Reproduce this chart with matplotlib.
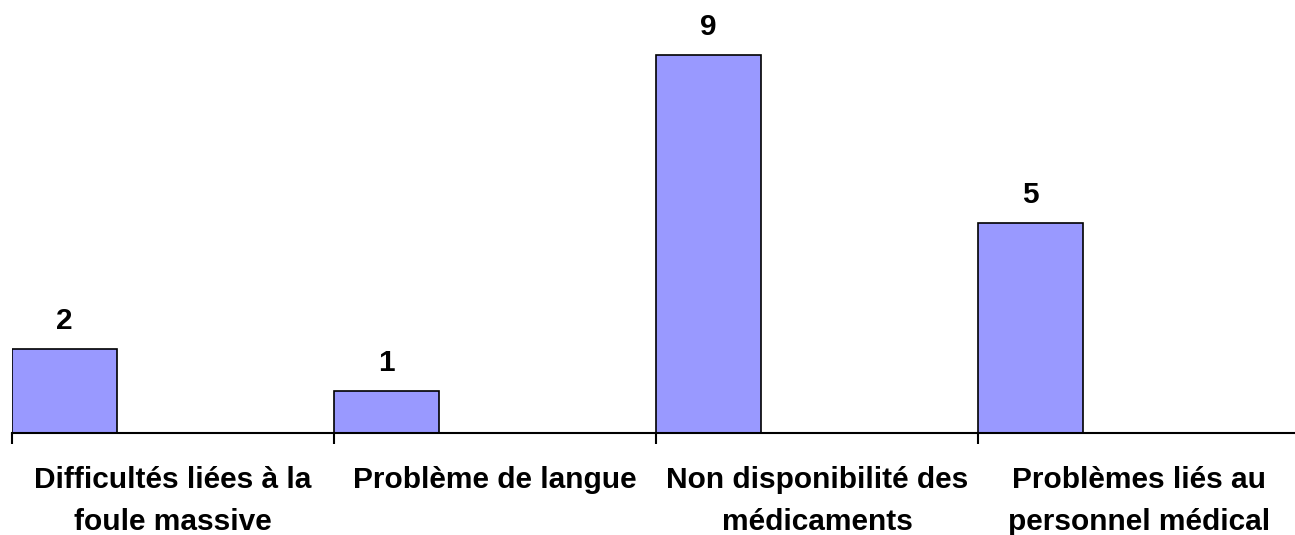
import matplotlib
matplotlib.use('Agg')
import matplotlib.pyplot as plt
import numpy as np

# data
categories = ['Difficultés liées à la\nfoule massive',
              'Problème de langue',
              'Non disponibilité des\nmédicaments',
              'Problèmes liés au\npersonnel médical']
values = [2, 1, 9, 5]

plt.rcParams['font.family'] = ['Liberation Sans', 'DejaVu Sans']
plt.rcParams['font.weight'] = 'bold'

W, H = 1295, 535
fig = plt.figure(figsize=(W / 100, H / 100), dpi=100)
# axes: left edge at x=12px, baseline at y=433px, 42px per unit
ax = fig.add_axes([12 / W, (H - 433) / H, (W - 12) / W, 420 / H])

slot = 322
bar_w = 105 / slot
x = np.arange(len(values))
ax.bar(x, values, width=bar_w, align='edge', color='#9999FF',
       edgecolor='black', linewidth=1.2, zorder=2)

for xi, v in zip(x, values):
    ax.annotate(str(v), (xi + bar_w / 2, v), xytext=(0, 14.5),
                textcoords='offset points', ha='center', va='baseline',
                fontsize=21.5, fontweight='bold')

ax.set_xlim(0, (W - 12) / slot)
ax.set_ylim(0, 10)

for s in ['top', 'right', 'left']:
    ax.spines[s].set_visible(False)
ax.spines['bottom'].set_linewidth(1.5)
ax.spines['bottom'].set_zorder(3)
ax.set_yticks([])

ax.set_xticks(x)
ax.set_xticklabels([])
ax.tick_params(axis='x', which='major', direction='out', length=8, width=1.5)
ax.set_xticks(x + 0.5, minor=True)
ax.set_xticklabels(categories, minor=True, fontsize=21.5, fontweight='bold',
                   linespacing=1.6)
ax.tick_params(axis='x', which='minor', length=0, pad=24)

fig.savefig('out.png', dpi=100)
